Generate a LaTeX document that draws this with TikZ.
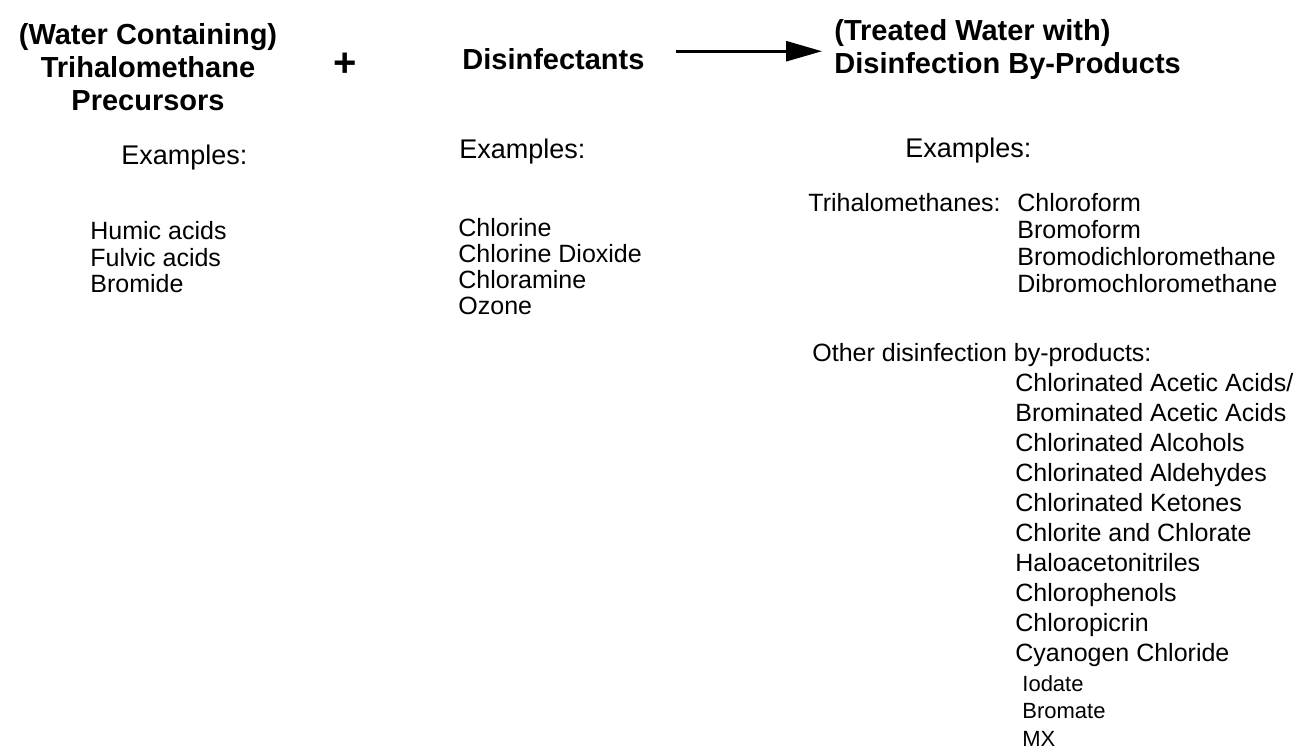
\documentclass[tikz,border=0pt]{standalone}
\usepackage{fontspec}
\setmainfont{Liberation Sans}
\usepackage{tikz}
\usetikzlibrary{arrows.meta}

\begin{document}
\begin{tikzpicture}[x=0.5pt, y=-0.5pt, every node/.style={inner sep=0pt},
  heading/.style={font=\fontsize{14.5}{16.5}\selectfont\bfseries},
  examples/.style={font=\fontsize{13.5}{16}\selectfont, anchor=base west},
  items/.style={font=\fontsize{12.5}{13.25}\selectfont, anchor=north west, align=left},
  reacts/.style={line width=1.3pt, -{Triangle[length=18pt,width=10pt]}}]
  \useasboundingbox (0,0) rectangle (1312,748);
  % reaction line
  \node (thp) [heading, align=center] at (148,67) {(Water Containing)\\ Trihalomethane\\ Precursors};
  \node (plus) [heading, font=\fontsize{20}{20}\selectfont\bfseries] at (345,65) {+};
  \node (dis) [heading, anchor=base west] at (462,70) {Disinfectants};
  \node (dbp) [heading, align=left, anchor=north west] at (834,19) {(Treated Water with)\\ Disinfection By-Products};
  \path ([yshift=4.2pt]dis.east) coordinate (arrowy);
  \draw[reacts] ([xshift=15.5pt]arrowy) -- ([xshift=-6pt]arrowy -| dbp.west);
  % examples
  \node (exthp) [examples] at (121,165) {Examples:};
  \node (exdis) [examples] at (459,159) {Examples:};
  \node (exdbp) [examples] at (905,158) {Examples:};
  \node (precursors) [items] at (90,221) {Humic acids\\ Fulvic acids\\ Bromide};
  \node (agents) [items, font=\fontsize{12.5}{13}\selectfont] at (458,218) {Chlorine\\ Chlorine Dioxide\\ Chloramine\\ Ozone};
  \node (thmlabel) [items] at (808,193) {Trihalomethanes:};
  \node (thms) [items, font=\fontsize{12.5}{13.5}\selectfont] at (1017,193) {Chloroform\\ Bromoform\\ Bromodichloromethane\\ Dibromochloromethane};
  \node (otherlabel) [items] at (812,343) {Other disinfection by-products:};
  \node (others) [items, font=\fontsize{12.5}{15}\selectfont] at (1015,373) {Chlorinated Acetic Acids/\\ Brominated Acetic Acids\\ Chlorinated Alcohols\\ Chlorinated Aldehydes\\ Chlorinated Ketones\\ Chlorite and Chlorate\\ Haloacetonitriles\\ Chlorophenols\\ Chloropicrin\\ Cyanogen Chloride};
  \node (minor) [items, font=\fontsize{11}{13.75}\selectfont] at (1022,675) {Iodate\\ Bromate\\ MX};
\end{tikzpicture}
\end{document}
